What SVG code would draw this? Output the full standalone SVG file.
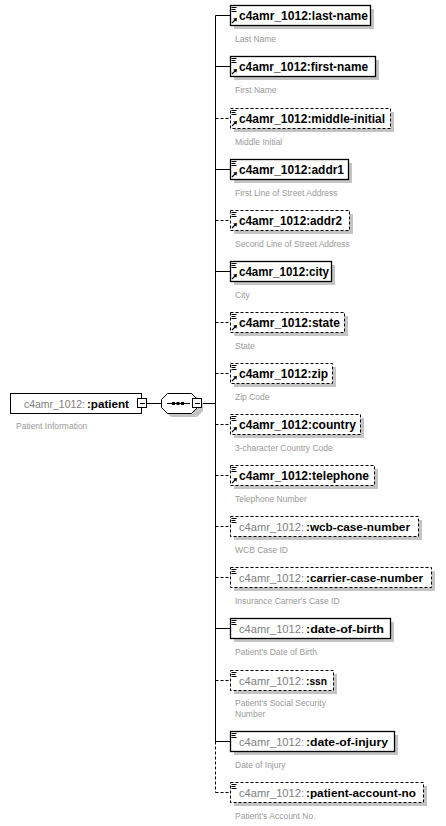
<svg xmlns="http://www.w3.org/2000/svg" xmlns:xlink="http://www.w3.org/1999/xlink" width="446" height="826" viewBox="0 0 446 826">
<style>
.bg{fill:#fff}
.ln{stroke:#000;stroke-width:1;fill:none}
.dl{stroke:#000;stroke-width:1;fill:none;stroke-dasharray:3 2}
.box{fill:#fff;stroke:#000;stroke-width:1.3}
.dbox{fill:#fff;stroke:#000;stroke-width:1;stroke-dasharray:3 2}
.sh{fill:#c4c4c4}
.nm{font-family:"Liberation Sans",Arial,sans-serif;font-size:12px;font-weight:bold;fill:#000}
.pf{font-family:"Liberation Sans",Arial,sans-serif;font-size:11.5px;fill:#808080}
.bn{font-family:"Liberation Sans",Arial,sans-serif;font-size:11.5px;font-weight:bold;fill:#000}
.ds{font-family:"Liberation Sans",Arial,sans-serif;font-size:8.5px;fill:#999}
</style>
<defs>
<g id="eq"><path d="M1.5 2.5h5M1.5 4.5h4M1.5 6.5h5" stroke="#000" stroke-width="1" fill="none"/></g>
<g id="arr"><path d="M2 -2L5.5 -5.5" stroke="#000" stroke-width="1.2" fill="none"/><polygon points="7,-7 3.2,-6.4 6.4,-3.2" fill="#000"/></g>
</defs>
<rect class="bg" x="0" y="0" width="446" height="826"/>

<g id="connectors">
<path class="ln" d="M146.5 403.5H161.5"/>
<path class="ln" d="M201.5 403.5H215.5"/>
<path class="ln" d="M215.5 15.5V741.5"/>
<path class="dl" d="M215.5 741.5V792.5"/>
<path class="ln" d="M215.5 15.5H230.5"/>
<path class="ln" d="M215.5 66.5H230.5"/>
<path class="dl" d="M215.5 118.5H230.5"/>
<path class="ln" d="M215.5 169.5H230.5"/>
<path class="dl" d="M215.5 220.5H230.5"/>
<path class="ln" d="M215.5 271.5H230.5"/>
<path class="dl" d="M215.5 322.5H230.5"/>
<path class="dl" d="M215.5 373.5H230.5"/>
<path class="dl" d="M215.5 424.5H230.5"/>
<path class="dl" d="M215.5 475.5H230.5"/>
<path class="dl" d="M215.5 526.5H230.5"/>
<path class="dl" d="M215.5 577.5H230.5"/>
<path class="ln" d="M215.5 628.5H230.5"/>
<path class="dl" d="M215.5 680.5H230.5"/>
<path class="ln" d="M215.5 741.5H230.5"/>
<path class="dl" d="M215.5 792.5H230.5"/>
</g>

<g id="patient">
<rect class="box" x="10.5" y="393.5" width="131" height="20" style="stroke-width:1"/>
<text class="pf" x="24" y="408" textLength="61" lengthAdjust="spacingAndGlyphs">c4amr_1012:</text>
<text class="bn" x="87" y="408" textLength="42" lengthAdjust="spacingAndGlyphs">:patient</text>
<rect x="137.5" y="398.5" width="9" height="9" fill="#fff" stroke="#000"/>
<path class="ln" d="M140 403.5h5"/>
<text class="ds" x="16" y="429">Patient Information</text>
</g>

<g id="sequence">
<polygon class="sh" points="171,397 197,397 203,403 203,411 197,417 171,417 165,411 165,403"/>
<polygon fill="#fff" stroke="#000" points="167.5,393.5 191.5,393.5 197.5,399.5 197.5,407.5 191.5,413.5 167.5,413.5 161.5,407.5 161.5,399.5"/>
<path class="ln" d="M167 403.5H190"/>
<rect x="172" y="402" width="3" height="3" fill="#000"/>
<rect x="176.5" y="402" width="3" height="3" fill="#000"/>
<rect x="181" y="402" width="3" height="3" fill="#000"/>
<rect x="192.5" y="398.5" width="9" height="9" fill="#fff" stroke="#000"/>
<path class="ln" d="M195 403.5h5"/>
</g>

<g id="last-name">
<rect class="sh" x="234" y="9" width="140" height="20"/>
<rect class="box" x="230.5" y="5.5" width="140" height="20"/>
<use xlink:href="#eq" x="230" y="5"/><use xlink:href="#arr" x="230" y="25"/>
<text class="nm" x="239" y="20" textLength="129" lengthAdjust="spacingAndGlyphs">c4amr_1012:last-name</text>
<text class="ds" x="235" y="42">Last Name</text>
</g>

<g id="first-name">
<rect class="sh" x="234" y="60" width="145" height="20"/>
<rect class="box" x="230.5" y="56.5" width="145" height="20"/>
<use xlink:href="#eq" x="230" y="56"/><use xlink:href="#arr" x="230" y="76"/>
<text class="nm" x="239" y="71" textLength="129" lengthAdjust="spacingAndGlyphs">c4amr_1012:first-name</text>
<text class="ds" x="235" y="93">First Name</text>
</g>

<g id="middle-initial">
<rect class="sh" x="234" y="112" width="160" height="20"/>
<rect class="dbox" x="230.5" y="108.5" width="160" height="20"/>
<use xlink:href="#eq" x="230" y="108"/><use xlink:href="#arr" x="230" y="128"/>
<text class="nm" x="239" y="123" textLength="146" lengthAdjust="spacingAndGlyphs">c4amr_1012:middle-initial</text>
<text class="ds" x="235" y="145">Middle Initial</text>
</g>

<g id="addr1">
<rect class="sh" x="234" y="163" width="118" height="20"/>
<rect class="box" x="230.5" y="159.5" width="118" height="20"/>
<use xlink:href="#eq" x="230" y="159"/><use xlink:href="#arr" x="230" y="179"/>
<text class="nm" x="239" y="174" textLength="105" lengthAdjust="spacingAndGlyphs">c4amr_1012:addr1</text>
<text class="ds" x="235" y="196">First Line of Street Address</text>
</g>

<g id="addr2">
<rect class="sh" x="234" y="214" width="119" height="20"/>
<rect class="dbox" x="230.5" y="210.5" width="119" height="20"/>
<use xlink:href="#eq" x="230" y="210"/><use xlink:href="#arr" x="230" y="230"/>
<text class="nm" x="239" y="225" textLength="103" lengthAdjust="spacingAndGlyphs">c4amr_1012:addr2</text>
<text class="ds" x="235" y="247">Second Line of Street Address</text>
</g>

<g id="city">
<rect class="sh" x="234" y="265" width="101" height="20"/>
<rect class="box" x="230.5" y="261.5" width="101" height="20"/>
<use xlink:href="#eq" x="230" y="261"/><use xlink:href="#arr" x="230" y="281"/>
<text class="nm" x="239" y="276" textLength="90" lengthAdjust="spacingAndGlyphs">c4amr_1012:city</text>
<text class="ds" x="235" y="298">City</text>
</g>

<g id="state">
<rect class="sh" x="234" y="316" width="114" height="20"/>
<rect class="dbox" x="230.5" y="312.5" width="114" height="20"/>
<use xlink:href="#eq" x="230" y="312"/><use xlink:href="#arr" x="230" y="332"/>
<text class="nm" x="239" y="327" textLength="101" lengthAdjust="spacingAndGlyphs">c4amr_1012:state</text>
<text class="ds" x="235" y="349">State</text>
</g>

<g id="zip">
<rect class="sh" x="234" y="367" width="102" height="20"/>
<rect class="dbox" x="230.5" y="363.5" width="102" height="20"/>
<use xlink:href="#eq" x="230" y="363"/><use xlink:href="#arr" x="230" y="383"/>
<text class="nm" x="239" y="378" textLength="89" lengthAdjust="spacingAndGlyphs">c4amr_1012:zip</text>
<text class="ds" x="235" y="400">Zip Code</text>
</g>

<g id="country">
<rect class="sh" x="234" y="418" width="130" height="20"/>
<rect class="dbox" x="230.5" y="414.5" width="130" height="20"/>
<use xlink:href="#eq" x="230" y="414"/><use xlink:href="#arr" x="230" y="434"/>
<text class="nm" x="239" y="429" textLength="117" lengthAdjust="spacingAndGlyphs">c4amr_1012:country</text>
<text class="ds" x="235" y="451">3-character Country Code</text>
</g>

<g id="telephone">
<rect class="sh" x="234" y="469" width="144" height="20"/>
<rect class="dbox" x="230.5" y="465.5" width="144" height="20"/>
<use xlink:href="#eq" x="230" y="465"/><use xlink:href="#arr" x="230" y="485"/>
<text class="nm" x="239" y="480" textLength="130" lengthAdjust="spacingAndGlyphs">c4amr_1012:telephone</text>
<text class="ds" x="235" y="502">Telephone Number</text>
</g>

<g id="wcb-case-number">
<rect class="sh" x="234" y="520" width="188" height="20"/>
<rect class="dbox" x="230.5" y="516.5" width="188" height="20"/>
<use xlink:href="#eq" x="230" y="516"/>
<text class="pf" x="239" y="531" textLength="65" lengthAdjust="spacingAndGlyphs">c4amr_1012:</text>
<text class="bn" x="306" y="531" textLength="104" lengthAdjust="spacingAndGlyphs">:wcb-case-number</text>
<text class="ds" x="235" y="553">WCB Case ID</text>
</g>

<g id="carrier-case-number">
<rect class="sh" x="234" y="571" width="201" height="20"/>
<rect class="dbox" x="230.5" y="567.5" width="201" height="20"/>
<use xlink:href="#eq" x="230" y="567"/>
<text class="pf" x="239" y="582" textLength="65" lengthAdjust="spacingAndGlyphs">c4amr_1012:</text>
<text class="bn" x="306" y="582" textLength="117" lengthAdjust="spacingAndGlyphs">:carrier-case-number</text>
<text class="ds" x="235" y="604">Insurance Carrier's Case ID</text>
</g>

<g id="date-of-birth">
<rect class="sh" x="234" y="622" width="160" height="20"/>
<rect class="box" x="230.5" y="618.5" width="160" height="20"/>
<use xlink:href="#eq" x="230" y="618"/>
<text class="pf" x="239" y="633" textLength="65" lengthAdjust="spacingAndGlyphs">c4amr_1012:</text>
<text class="bn" x="306" y="633" textLength="78" lengthAdjust="spacingAndGlyphs">:date-of-birth</text>
<text class="ds" x="235" y="655">Patient's Date of Birth</text>
</g>

<g id="ssn">
<rect class="sh" x="234" y="674" width="103" height="20"/>
<rect class="dbox" x="230.5" y="670.5" width="103" height="20"/>
<use xlink:href="#eq" x="230" y="670"/>
<text class="pf" x="239" y="685" textLength="65" lengthAdjust="spacingAndGlyphs">c4amr_1012:</text>
<text class="bn" x="306" y="685" textLength="21" lengthAdjust="spacingAndGlyphs">:ssn</text>
<text class="ds" x="235" y="706">Patient's Social Security</text>
<text class="ds" x="235" y="717">Number</text>
</g>

<g id="date-of-injury">
<rect class="sh" x="234" y="735" width="164" height="20"/>
<rect class="box" x="230.5" y="731.5" width="164" height="20"/>
<use xlink:href="#eq" x="230" y="731"/>
<text class="pf" x="239" y="746" textLength="65" lengthAdjust="spacingAndGlyphs">c4amr_1012:</text>
<text class="bn" x="306" y="746" textLength="82" lengthAdjust="spacingAndGlyphs">:date-of-injury</text>
<text class="ds" x="235" y="768">Date of Injury</text>
</g>

<g id="patient-account-no">
<rect class="sh" x="234" y="786" width="193" height="20"/>
<rect class="dbox" x="230.5" y="782.5" width="193" height="20"/>
<use xlink:href="#eq" x="230" y="782"/>
<text class="pf" x="239" y="797" textLength="65" lengthAdjust="spacingAndGlyphs">c4amr_1012:</text>
<text class="bn" x="306" y="797" textLength="110" lengthAdjust="spacingAndGlyphs">:patient-account-no</text>
<text class="ds" x="235" y="819">Patient's Account No.</text>
</g>
</svg>
